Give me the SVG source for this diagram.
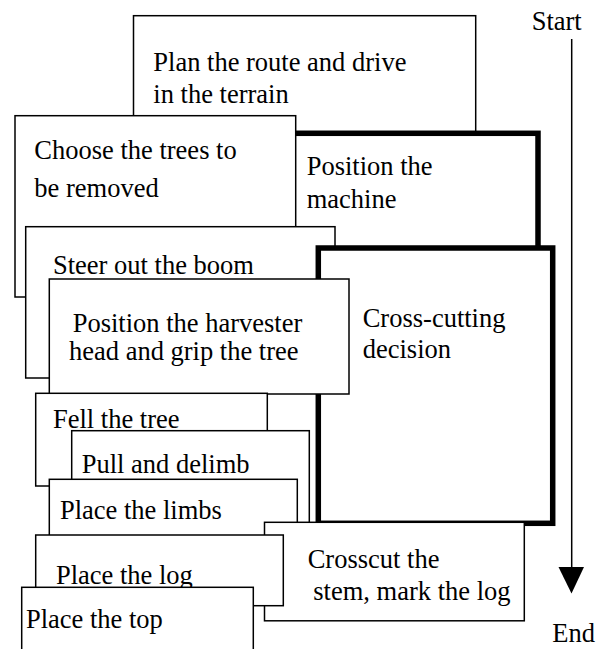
<svg xmlns="http://www.w3.org/2000/svg" width="603" height="649" viewBox="0 0 603 649">
<style>
  .box { fill: #fff; stroke: #000; stroke-width: 1.5; }
  .thick { fill: #fff; stroke: #000; stroke-width: 5.5; }
  .t { font-family: 'Liberation Serif', 'Times New Roman', Times, serif; font-size: 26.5px; fill: #000; }
</style>
<rect width="603" height="649" fill="#fff"/>
<g id="plan">
  <rect class="box" x="133.5" y="15.7" width="342.2" height="116"/>
  <text class="t" x="153.3" y="70.7">Plan the route and drive</text>
  <text class="t" x="153.3" y="103.3">in the terrain</text>
</g>
<g id="machine">
  <rect class="thick" x="250" y="133.3" width="288" height="170"/>
  <text class="t" x="306.7" y="175">Position the</text>
  <text class="t" x="306.7" y="208">machine</text>
</g>
<g id="choose">
  <rect class="box" x="15" y="115.7" width="280.7" height="181.3"/>
  <text class="t" x="34.3" y="159">Choose the trees to</text>
  <text class="t" x="34.3" y="197">be removed</text>
</g>
<g id="steer">
  <rect class="box" x="25.7" y="226.7" width="309.3" height="151.3"/>
  <text class="t" x="53" y="274">Steer out the boom</text>
</g>
<g id="crossdecision">
  <rect class="thick" x="318.3" y="248" width="234.4" height="275.3"/>
  <text class="t" x="362.7" y="326.7">Cross-cutting</text>
  <text class="t" x="362.7" y="358">decision</text>
</g>
<g id="harvester">
  <rect class="box" x="49.3" y="279" width="299.7" height="115"/>
  <text class="t" x="72.7" y="332">Position the harvester</text>
  <text class="t" x="69" y="360">head and grip the tree</text>
</g>
<g id="fell">
  <rect class="box" x="35.7" y="393.3" width="231.6" height="92.7"/>
  <text class="t" x="53" y="428">Fell the tree</text>
</g>
<g id="pull">
  <rect class="box" x="71.7" y="430.7" width="237.6" height="100"/>
  <text class="t" x="81.7" y="473">Pull and delimb</text>
</g>
<g id="limbs">
  <rect class="box" x="49.3" y="479.3" width="248" height="60"/>
  <text class="t" x="60" y="519">Place the limbs</text>
</g>
<g id="crosscut">
  <rect class="box" x="264.5" y="522.3" width="259.8" height="98.5"/>
  <text class="t" x="307.7" y="567.7">Crosscut the</text>
  <text class="t" x="313.3" y="600">stem, mark the log</text>
</g>
<g id="log">
  <rect class="box" x="35.7" y="535" width="247.6" height="70.7"/>
  <text class="t" x="56" y="584">Place the log</text>
</g>
<g id="top">
  <rect class="box" x="21.7" y="587.3" width="231.6" height="100"/>
  <text class="t" x="26" y="628">Place the top</text>
</g>
<g id="connectors">
  <line x1="571.7" y1="39" x2="571.7" y2="568" stroke="#000" stroke-width="1.5"/>
  <polygon points="558.5,567 584,567 571.5,593.5" fill="#000"/>
  <text class="t" x="531.7" y="30">Start</text>
  <text class="t" x="552.3" y="642">End</text>
</g>
</svg>
